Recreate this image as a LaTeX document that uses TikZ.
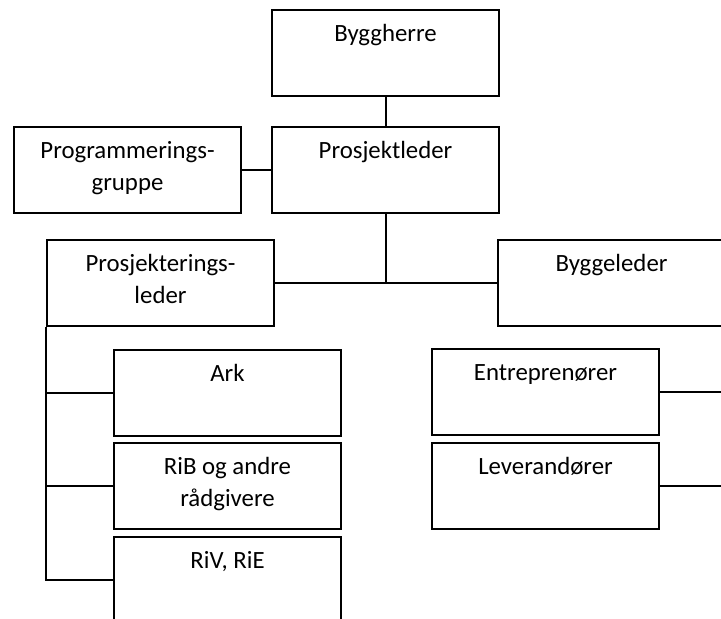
\documentclass[tikz,border=0pt]{standalone}
\usepackage{fontspec}
\setmainfont{Carlito}
\begin{document}
\begin{tikzpicture}[x=1pt,y=-1pt,
  box/.style={draw, line width=2pt, minimum width=227pt, minimum height=86pt,
              inner sep=0pt, anchor=north west},
  lbl/.style={anchor=base, font=\fontsize{24.8}{32}\selectfont, align=center, inner sep=0pt},
  link/.style={line width=2pt}]
\clip (0,0) rectangle (721,619);

% boxes
\node[box] (byggherre)     at (271,9)   {};
\node[box] (prosjektleder) at (271,126) {};
\node[box] (programmering) at (13,126)  {};
\node[box] (prosjektering) at (46,239)  {};
\node[box] (byggeleder)    at (497,239) {};
\node[box] (ark)           at (113,349) {};
\node[box] (rib)           at (113,442) {};
\node[box] (riv)           at (113,536) {};
\node[box] (entrep)        at (431,348) {};
\node[box] (lever)         at (431,442) {};

% labels: the base anchor sits on the last line, 32pt per line below the top edge
\foreach \b/\d/\t in {byggherre/32/Byggherre, prosjektleder/32/Prosjektleder,
  programmering/64/{Programmerings-\\gruppe}, prosjektering/64/{Prosjekterings-\\leder},
  byggeleder/32/Byggeleder, ark/32/Ark, rib/64/{RiB og andre\\rådgivere}, riv/32/{RiV, RiE},
  entrep/32/Entreprenører, lever/32/Leverandører}
  \node[lbl] (t-\b) at ([yshift=-\d pt]\b.north) {\t};

% connectors
\draw[link] (byggherre.south) -- (prosjektleder.north);
\draw[link] (programmering.east) -- (prosjektleder.west);
\draw[link] (prosjektleder.south) -- (prosjektleder.south |- prosjektering.east);
\draw[link] (prosjektering.east) -- (byggeleder.west);
\draw[link] (prosjektering.south west) |- (ark.west);
\draw[link] (prosjektering.south west) |- (rib.west);
\draw[link] (prosjektering.south west) |- (riv.west);
\draw[link] (entrep.east) -- (entrep.east -| byggeleder.east);
\draw[link] (lever.east) -- (lever.east -| byggeleder.east);
\end{tikzpicture}
\end{document}
